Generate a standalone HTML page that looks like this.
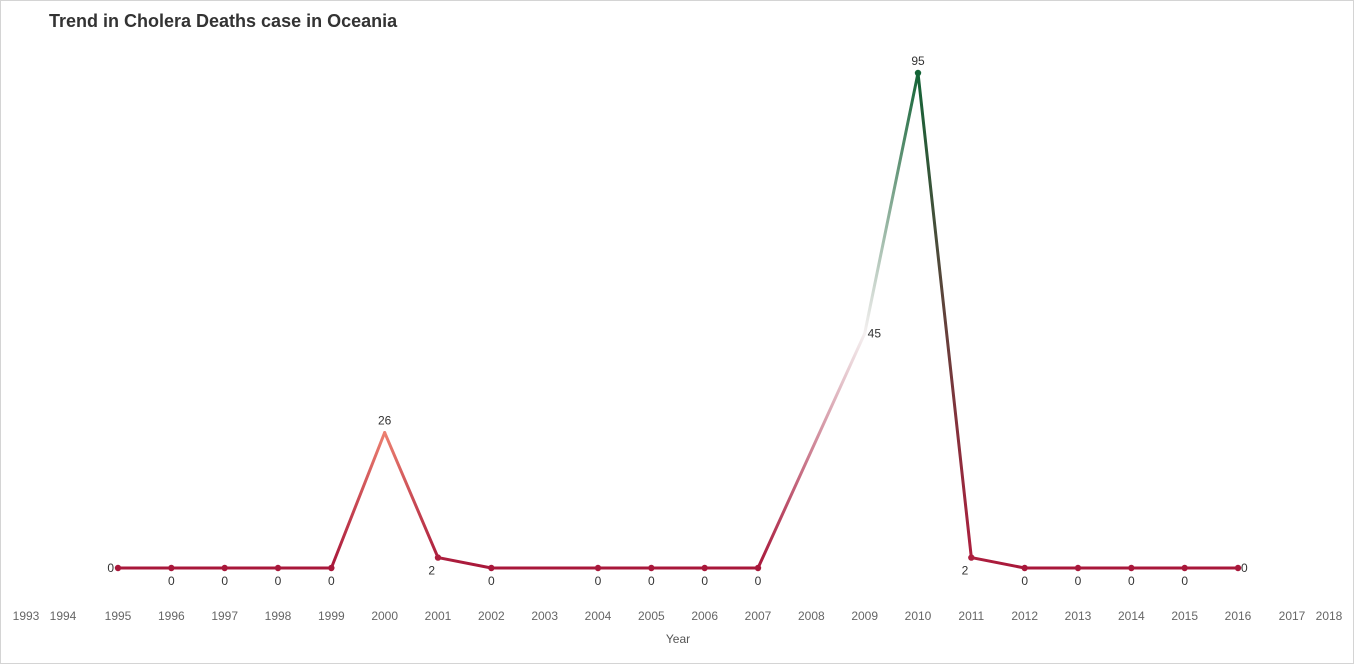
<!DOCTYPE html>
<html><head><meta charset="utf-8"><style>
body{margin:0;background:#fff;}
svg{display:block;font-family:"Liberation Sans",Arial,sans-serif;}
</style></head><body>
<svg id="chart" width="1354" height="669">
<rect x="0.5" y="0.5" width="1353" height="663" fill="#fff" stroke="#d4d4d4"/>
<text x="49" y="27" font-size="18" font-weight="bold" fill="#333">Trend in Cholera Deaths case in Oceania</text>
<text x="678" y="643" font-size="12" fill="#555" text-anchor="middle">Year</text>
<defs id="defs"></defs>
<g id="ticks"></g><g id="lines"></g><g id="dots"></g><g id="labels"></g>
</svg>
<script>
const years=[1995,1996,1997,1998,1999,2000,2001,2002,2004,2005,2006,2007,2009,2010,2011,2012,2013,2014,2015,2016];
const deaths=[0,0,0,0,0,26,2,0,0,0,0,0,45,95,2,0,0,0,0,0];
const tickYears=[1995,1996,1997,1998,1999,2000,2001,2002,2003,2004,2005,2006,2007,2008,2009,2010,2011,2012,2013,2014,2015,2016];
const edgeTickYears=[1993,1994,2017,2018];
const edgeTickX=[26,63,1292,1329];
const labelPos=['left','below','below','below','below','above','belowleft','below','below','below','below','below','right','above','belowleft','below','below','below','below','right'];
const x=y=>118+(y-1995)*(1238-118)/21;
const yv=v=>568-v*(568-73)/95;
const NS='http://www.w3.org/2000/svg';
function mk(tag,attrs,parent){const e=document.createElementNS(NS,tag);for(const k in attrs)e.setAttribute(k,attrs[k]);parent.appendChild(e);return e;}
const stops=[[0,[168,23,58]],[26,[236,128,112]],[45,[244,240,240]],[95,[20,100,55]]];
function col(v){for(let i=0;i<stops.length-1;i++){const a=stops[i],b=stops[i+1];if(v<=b[0]){const t=(v-a[0])/(b[0]-a[0]);return 'rgb('+a[1].map((c,j)=>Math.round(c+(b[1][j]-c)*t)).join(',')+')';}}return 'rgb(20,100,55)';}
const svgT=document.getElementById('ticks'),defs=document.getElementById('defs'),L=document.getElementById('lines'),D=document.getElementById('dots'),LB=document.getElementById('labels');
tickYears.forEach(t=>{const e=mk('text',{x:x(t),y:620,'font-size':12,fill:'#666','text-anchor':'middle'},svgT);e.textContent=t;

});
edgeTickYears.forEach((t,i)=>{const e=mk('text',{x:edgeTickX[i],y:620,'font-size':12,fill:'#666','text-anchor':'middle'},svgT);e.textContent=t;

});
for(let i=0;i<years.length-1;i++){
 const x1=x(years[i]),y1=yv(deaths[i]),x2=x(years[i+1]),y2=yv(deaths[i+1]);
 const g=mk('linearGradient',{id:'g'+i,gradientUnits:'userSpaceOnUse',x1:x1,y1:y1,x2:x2,y2:y2},defs);
 mk('stop',{offset:0,'stop-color':col(deaths[i])},g);
 mk('stop',{offset:1,'stop-color':col(deaths[i+1])},g);
 const l=mk('line',{x1:x1,y1:y1,x2:x2,y2:y2,stroke:'url(#g'+i+')','stroke-width':3,'stroke-linecap':'round'},L);
 
 
}
years.forEach((yr,i)=>{const cx=x(yr),cy=yv(deaths[i]);
 if(deaths[i]!==45&&deaths[i]!==26){const c=mk('circle',{cx:cx,cy:cy,r:3.2,fill:col(deaths[i])},D);
 
 }
 const p=labelPos[i];let lx=cx,ly=cy,a='middle';
 if(p==='left'){lx=cx-4;ly=cy+4;a='end';}else if(p==='right'){lx=cx+3;ly=cy+4;a='start';}
 else if(p==='below'){ly=cy+17;}else if(p==='above'){ly=cy-8;}else if(p==='belowleft'){lx=cx-3;ly=cy+17;a='end';}
 const t=mk('text',{x:lx,y:ly,'font-size':12,fill:'#333','text-anchor':a},LB);t.textContent=deaths[i];
 
 
});
</script>
</body></html>
